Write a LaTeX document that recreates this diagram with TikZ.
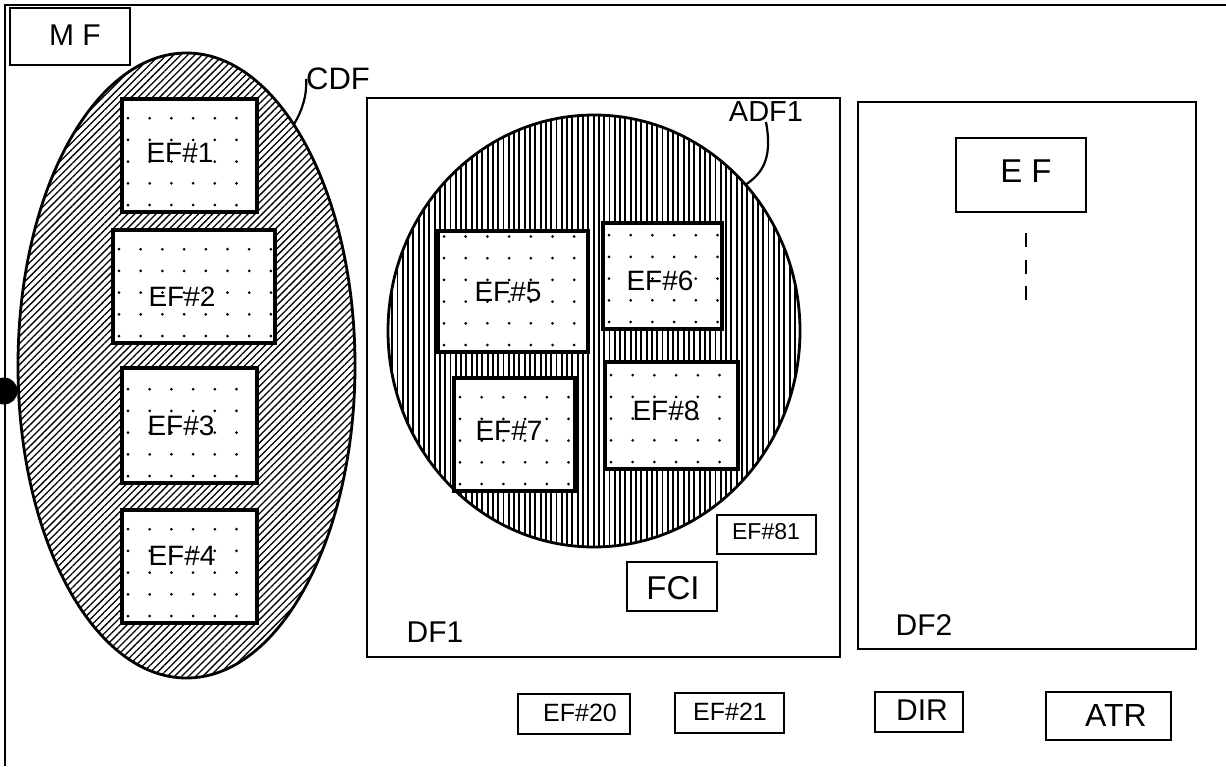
\documentclass[tikz,border=0pt]{standalone}
\usepackage{fontspec}
\setmainfont{Liberation Sans}
\usetikzlibrary{shapes.geometric,patterns.meta}
\newcommand\fsz[1]{\fontsize{#1}{#1}\selectfont}
\newcommand\efdots[4]{%
  \pgfmathtruncatemacro\efnx{floor((#3-#1-8)/21.7)}%
  \pgfmathtruncatemacro\efny{floor((#4-#2-8)/21.7)}%
  \foreach \i in {0,...,\efnx}{\foreach \j in {0,...,\efny}{\fill ({#1+6+\i*21.7},{#4-7-\j*21.7}) circle (1.5);}}}
\newcommand\boxnode[6]{%
  \node[#6, minimum width={#4-#2}, minimum height={#5-#3}] (#1) at ({(#2+#4)/2},{(#3+#5)/2}) {};}
\tikzset{
  frame/.style={line width=2.6pt},
  thinbox/.style={draw, rectangle, line width=2.6pt, inner sep=0pt, outer sep=0pt},
  efbox/.style={draw, rectangle, fill=white, line width=3.4pt, inner sep=0pt, outer sep=0pt},
  smallbox/.style={draw, rectangle, fill=white, line width=2.6pt, inner sep=0pt, outer sep=0pt},
  txt/.style={inner sep=0pt, outer sep=0pt, anchor=center},
  cdfshape/.style={draw, ellipse, line width=2.8pt, inner sep=0pt, outer sep=0pt,
    pattern={Lines[angle=45, distance=5pt, line width=1.3pt]}},
  adfshape/.style={draw, ellipse, line width=2.8pt, inner sep=0pt, outer sep=0pt,
    pattern={Lines[angle=90, distance=5.3pt, line width=1.9pt]}},
  leader/.style={line width=2.2pt},
  vdash/.style={line width=2.8pt, dash pattern=on 14pt off 12.5pt}
}
\begin{document}
\begin{tikzpicture}[x=1pt,y=-1pt]
\useasboundingbox (0,0) rectangle (1226,766);
% outer frame
\coordinate (fbl) at (5,766);
\coordinate (ftl) at (5,5);
\coordinate (ftr) at (1226,5);
\draw[frame] (fbl) -- (ftl) -- (ftr);
\node[circle, fill=black, inner sep=0pt, minimum size=27pt] (dot) at (4,391) {};
% MF
\boxnode{mf}{10}{8}{130}{65}{thinbox}
\node[txt] (mft) at (75,35) {\fsz{30}M F};
% CDF ellipse
\node[cdfshape, minimum width=337pt, minimum height=625pt] (cdf) at (186.5,365.5) {};
\node[txt] (cdft) at (338,79) {\fsz{31}CDF};
\draw[leader] (cdf.66.4) .. controls (302,111) and (307,96) .. (cdft.west);
\boxnode{ef1}{122}{99}{257}{212}{efbox}
\boxnode{ef2}{113}{230}{275}{343}{efbox}
\boxnode{ef3}{122}{368}{257}{483}{efbox}
\boxnode{ef4}{122}{510}{257}{623}{efbox}
\efdots{122}{99}{257}{212}
\efdots{113}{230}{275}{343}
\efdots{122}{368}{257}{483}
\efdots{122}{510}{257}{623}
\node[txt] (ef1t) at (180,153) {\fsz{28}EF\#1};
\node[txt] (ef2t) at (182,297) {\fsz{28}EF\#2};
\node[txt] (ef3t) at (181,426) {\fsz{28}EF\#3};
\node[txt] (ef4t) at (182,556) {\fsz{28}EF\#4};
% DF1
\boxnode{df1}{367}{98}{840}{657}{thinbox}
\node[adfshape, minimum width=412pt, minimum height=432pt] (adf) at (594,331) {};
\node[txt] (adft) at (766,112) {\fsz{29}ADF1};
\draw[leader] (adft.south) .. controls (772,155) and (765,172) .. (adf.44);
\boxnode{ef5}{438}{231}{588}{352}{efbox}
\boxnode{ef6}{603}{223}{722}{329}{efbox}
\boxnode{ef7}{454}{378}{575}{491}{efbox}
\boxnode{ef8}{605}{362}{738}{469}{efbox}
\efdots{438}{231}{588}{352}
\efdots{603}{223}{722}{329}
\efdots{454}{378}{575}{491}
\efdots{605}{362}{738}{469}
\node[txt] (ef5t) at (508,292) {\fsz{28}EF\#5};
\node[txt] (ef6t) at (660,281) {\fsz{28}EF\#6};
\node[txt] (ef7t) at (509,431) {\fsz{28}EF\#7};
\node[txt] (ef8t) at (666,411) {\fsz{28}EF\#8};
\boxnode{ef81}{717}{515}{816}{554}{smallbox}
\node[txt] (ef81t) at (766,532) {\fsz{23}EF\#81};
\boxnode{fci}{627}{562}{717}{611}{smallbox}
\node[txt] (fcit) at (673,588) {\fsz{33}FCI};
\node[txt] (df1t) at (435,632) {\fsz{30}DF1};
% DF2
\boxnode{df2}{858}{102}{1196}{649}{thinbox}
\boxnode{ef}{956}{138}{1086}{212}{smallbox}
\node[txt] (eft) at (1026,171) {\fsz{33}E F};
\coordinate (dtop) at (1026,233);
\coordinate (dbot) at (1026,305);
\draw[vdash] (dtop) -- (dbot);
\node[txt] (df2t) at (924,625) {\fsz{30}DF2};
% bottom row
\boxnode{ef20}{518}{694}{630}{734}{smallbox}
\node[txt] (ef20t) at (580,713) {\fsz{25}EF\#20};
\boxnode{ef21}{675}{693}{784}{733}{smallbox}
\node[txt] (ef21t) at (730,712) {\fsz{25}EF\#21};
\boxnode{dir}{875}{692}{963}{732}{smallbox}
\node[txt] (dirt) at (922,710) {\fsz{30}DIR};
\boxnode{atr}{1046}{692}{1171}{740}{smallbox}
\node[txt] (atrt) at (1116,715) {\fsz{32}ATR};
\end{tikzpicture}
\end{document}
